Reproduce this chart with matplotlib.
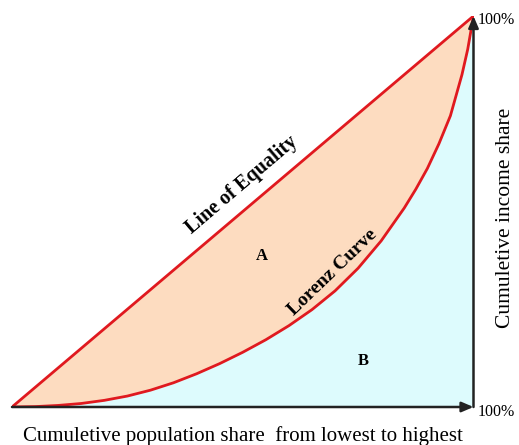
import matplotlib
matplotlib.use("Agg")
import matplotlib.pyplot as plt

# Data
pop_share = [0.0, 0.05, 0.1, 0.15, 0.2, 0.25, 0.3, 0.35, 0.4, 0.45, 0.5,
             0.55, 0.6, 0.65, 0.7, 0.75, 0.8, 0.85, 0.875, 0.9, 0.925, 0.95,
             0.975, 0.9875, 1.0]
income_share = [0.0, 0.001, 0.004, 0.009, 0.017, 0.028, 0.043, 0.062, 0.085, 0.111, 0.140,
                0.172, 0.208, 0.249, 0.297, 0.355, 0.425, 0.509, 0.557, 0.610, 0.673, 0.745,
                0.850, 0.915, 1.0]
equality = [0.0, 1.0]

plt.rcParams['font.family'] = ['Liberation Serif', 'DejaVu Serif']

W, H = 519, 445
fig = plt.figure(figsize=(W / 100, H / 100), dpi=100)
x0, x1, y0, y1 = 12, 473.5, 407, 16
ax = fig.add_axes([x0 / W, (H - y0) / H, (x1 - x0) / W, (y0 - y1) / H])
ax.set_xlim(0, 1)
ax.set_ylim(0, 1)
ax.axis('off')

peach = '#FDDCC0'
cyan = '#DDFBFD'
red = '#E0191F'

# Region B (below Lorenz curve)
ax.fill_between(pop_share, 0, income_share, color=cyan, lw=0)
# Region A (between equality and Lorenz)
ax.fill_between(pop_share, pop_share, income_share, color=peach, lw=0)

ax.plot(equality, equality, color=red, lw=2, solid_capstyle='round', zorder=3)
ax.plot(pop_share, income_share, color=red, lw=2, solid_joinstyle='round', zorder=3)

# Axes with arrows
arrow = dict(arrowstyle='-|>,head_length=0.7,head_width=0.3', color='#222222', lw=1.8,
             shrinkA=0, shrinkB=0)
ax.annotate('', xy=(1.0, 0.0), xytext=(0.0, 0.0), arrowprops=arrow, annotation_clip=False, zorder=4)
ax.annotate('', xy=(1.0, 1.0), xytext=(1.0, 0.0), arrowprops=arrow, annotation_clip=False, zorder=4)

ax.text(1.01, 0.99, '100%', ha='left', va='center', fontsize=11.5, clip_on=False)
ax.text(1.01, -0.012, '100%', ha='left', va='center', fontsize=11.5, clip_on=False)

fig.text(243 / W, 1 - 436 / H, 'Cumuletive population share  from lowest to highest',
         ha='center', va='center', fontsize=15)
fig.text(506 / W, 1 - 218 / H, 'Cumuletive income share', rotation=90,
         ha='center', va='center', fontsize=15.5)

fig.text(242 / W, 1 - 185 / H, 'Line of Equality', rotation=40.5, rotation_mode='anchor',
         ha='center', va='center', fontsize=14.5, fontweight='bold')
fig.text(333 / W, 1 - 272 / H, 'Lorenz Curve', rotation=44, rotation_mode='anchor',
         ha='center', va='center', fontsize=14, fontweight='bold')
fig.text(262 / W, 1 - 256 / H, 'A', ha='center', va='center', fontsize=12, fontweight='bold')
fig.text(363 / W, 1 - 361 / H, 'B', ha='center', va='center', fontsize=12, fontweight='bold')

fig.savefig('out.png', dpi=100)
